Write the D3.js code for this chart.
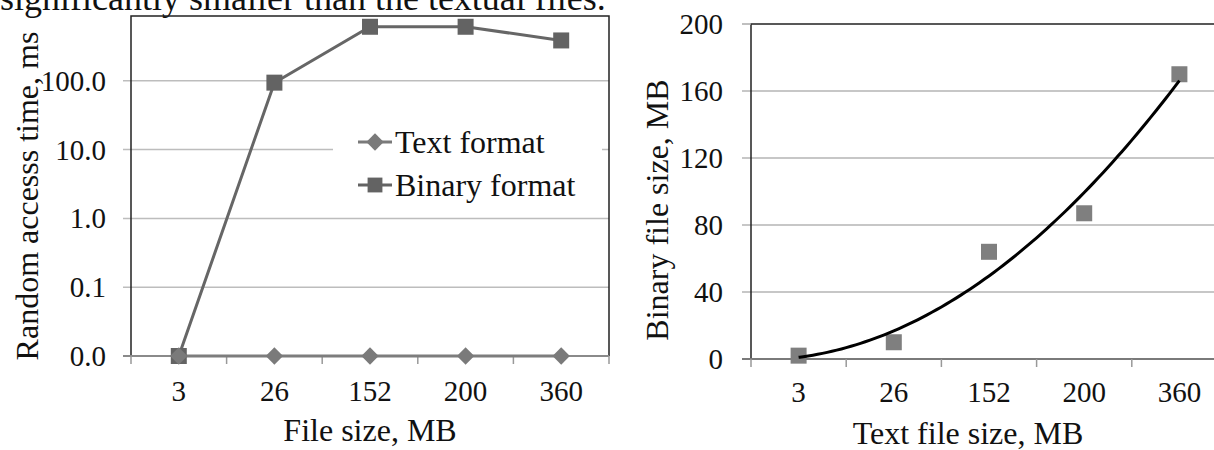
<!DOCTYPE html>
<html>
<head>
<meta charset="utf-8">
<script src="https://cdn.jsdelivr.net/npm/d3@7"></script>
<style>
  body { margin: 0; background: #fff; }
  svg { display: block; }
  text { font-family: "Liberation Serif", "Times New Roman", serif; fill: #111; }
</style>
</head>
<body>
<svg id="chart" width="1214" height="450"></svg>
<script>
const categories = ["3", "26", "152", "200", "360"];
const textFormat = [0.01, 0.01, 0.01, 0.01, 0.01];
const binaryFormat = [0.01, 94, 610, 610, 386];
const leftTicks = [0.01, 0.1, 1, 10, 100];
const binarySize = [2, 10, 64, 87, 170];
const rightTicks = [0, 40, 80, 120, 160, 200];
const seriesNames = ["Text format", "Binary format"];
const topLine = "significantly smaller than the textual files.";

const svg = d3.select("#chart");
const tickSize = 29;   // tick labels
const titleSize = 32;  // axis titles and legend

function label(x, y, str, anchor, size, rot = 0) {
  svg.append("text")
    .attr("transform", `translate(${x},${y}) rotate(${rot})`)
    .attr("text-anchor", anchor)
    .style("font-size", size + "px")
    .text(str);
}

// sentence cut off at the top of the page
label(0, 10, topLine, "start", 36);

// ---------- left chart: random access time (log) ----------
const L = {l: 131, r: 609, t: 16, b: 356};
const xL = d3.scaleBand().domain(categories).range([L.l, L.r]);
const yL = d3.scaleLog().domain([0.01, 1000]).range([L.b, L.b - 5 * 68.8]);
const fmt = d3.format(".1f");

const gL = svg.append("g");
gL.selectAll(".grid").data(leftTicks.slice(1)).join("line")
  .attr("x1", L.l - 8).attr("x2", L.r)
  .attr("y1", d => yL(d)).attr("y2", d => yL(d))
  .attr("stroke", "#bdbdbd").attr("stroke-width", 1.5);

// legend box hides the gridline behind it
gL.append("rect").attr("x", 333).attr("y", 118).attr("width", 269).attr("height", 88).attr("fill", "#fff");

gL.append("path")
  .attr("d", `M${L.l},${L.b}V${L.t}H${L.r}V${L.b}`)
  .attr("fill", "none").attr("stroke", "#222").attr("stroke-width", 1.5);
gL.append("line").attr("x1", L.l - 8).attr("x2", L.r).attr("y1", L.b).attr("y2", L.b)
  .attr("stroke", "#8a8a8a").attr("stroke-width", 2);

const edgesL = categories.map(c => xL(c)).concat([L.r]);
gL.selectAll(".xt").data(edgesL).join("line")
  .attr("x1", d => d).attr("x2", d => d).attr("y1", L.b).attr("y2", L.b + 8)
  .attr("stroke", "#999").attr("stroke-width", 1.5);

leftTicks.forEach(v => label(106, yL(v) + 10, fmt(v), "end", tickSize));
categories.forEach(c => label(xL(c) + xL.bandwidth() / 2, 401, c, "middle", tickSize));
label(370, 441, "File size, MB", "middle", titleSize);
label(38, 196, "Random accesss time, ms", "middle", titleSize, -90);

const cx = (d, i) => xL(categories[i]) + xL.bandwidth() / 2;
const line = d3.line().x(cx).y(d => yL(d));
const diamond = d3.symbol(d3.symbolSquare, 150);
const square = d3.symbol(d3.symbolSquare, 256);

gL.append("path").datum(binaryFormat).attr("d", line)
  .attr("fill", "none").attr("stroke", "#666").attr("stroke-width", 3);
gL.append("path").datum(textFormat).attr("d", line)
  .attr("fill", "none").attr("stroke", "#7d7d7d").attr("stroke-width", 3);
gL.selectAll(".bin").data(binaryFormat).join("path")
  .attr("transform", (d, i) => `translate(${cx(d, i)},${yL(d)})`)
  .attr("d", square).attr("fill", "#636363");
gL.selectAll(".txt").data(textFormat).join("path")
  .attr("transform", (d, i) => `translate(${cx(d, i)},${yL(d)}) rotate(45)`)
  .attr("d", diamond).attr("fill", "#7a7a7a");

// legend
const legRows = [
  {name: seriesNames[0], y: 142, sym: diamond, rot: 45, col: "#7a7a7a"},
  {name: seriesNames[1], y: 185, sym: d3.symbol(d3.symbolSquare, 220), rot: 0, col: "#636363"}
];
legRows.forEach(r => {
  gL.append("line").attr("x1", 358).attr("x2", 392).attr("y1", r.y).attr("y2", r.y)
    .attr("stroke", r.col).attr("stroke-width", 3);
  gL.append("path").attr("transform", `translate(375,${r.y}) rotate(${r.rot})`)
    .attr("d", r.sym).attr("fill", r.col);
  label(395, r.y + 11, r.name, "start", titleSize);
});

// ---------- right chart: binary vs text file size ----------
const R = {l: 751, r: 1227, t: 24, b: 359};
const xR = d3.scaleBand().domain(categories).range([R.l, R.r]);
const yR = d3.scaleLinear().domain([0, 200]).range([R.b, R.t]);

const gR = svg.append("g");
gR.selectAll(".grid").data(rightTicks.slice(1, -1)).join("line")
  .attr("x1", R.l - 9).attr("x2", R.r)
  .attr("y1", d => yR(d)).attr("y2", d => yR(d))
  .attr("stroke", "#b5b5b5").attr("stroke-width", 1.5);
gR.append("path")
  .attr("d", `M${R.l},${R.b}V${R.t}H${R.r}`)
  .attr("fill", "none").attr("stroke", "#222").attr("stroke-width", 1.5);
gR.append("line").attr("x1", R.l - 9).attr("x2", R.l).attr("y1", R.t).attr("y2", R.t)
  .attr("stroke", "#aaa").attr("stroke-width", 1.5);
gR.append("line").attr("x1", R.l - 9).attr("x2", R.r).attr("y1", R.b).attr("y2", R.b)
  .attr("stroke", "#7a7a7a").attr("stroke-width", 2);

const edgesR = categories.map(c => xR(c)).concat([R.r]);
gR.selectAll(".xt").data(edgesR).join("line")
  .attr("x1", d => d).attr("x2", d => d).attr("y1", R.b).attr("y2", R.b + 8)
  .attr("stroke", "#999").attr("stroke-width", 1.5);

rightTicks.forEach(v => label(723, yR(v) + 10, v, "end", tickSize));
categories.forEach(c => label(xR(c) + xR.bandwidth() / 2, 402, c, "middle", tickSize));
label(968, 444, "Text file size, MB", "middle", titleSize);
label(668, 210, "Binary file size, MB", "middle", titleSize, -90);

// polynomial (order 2) trend line, least squares on category index 1..5
const n = binarySize.length;
const idx = d3.range(1, n + 1);
const tm = d3.mean(idx);
const t = idx.map(i => i - tm);
const s2 = d3.sum(t, v => v * v), s4 = d3.sum(t, v => v ** 4);
const sy = d3.sum(binarySize), sty = d3.sum(t, (v, i) => v * binarySize[i]);
const st2y = d3.sum(t, (v, i) => v * v * binarySize[i]);
const B = sty / s2;
const C = (n * st2y - s2 * sy) / (n * s4 - s2 * s2);
const A = (sy - C * s2) / n;
const fit = i => A + B * (i - tm) + C * (i - tm) ** 2;

const xi = d3.scaleLinear().domain([1, n])
  .range([xR(categories[0]) + xR.bandwidth() / 2, xR(categories[n - 1]) + xR.bandwidth() / 2]);

gR.selectAll(".pt").data(binarySize).join("rect")
  .attr("x", (d, i) => xi(i + 1) - 8).attr("y", d => yR(d) - 8)
  .attr("width", 16).attr("height", 16).attr("fill", "#7f7f7f");

gR.append("path").datum(d3.range(1, n + 0.001, 0.05))
  .attr("d", d3.line().x(i => xi(i)).y(i => yR(fit(i))).curve(d3.curveMonotoneX))
  .attr("fill", "none").attr("stroke", "#000").attr("stroke-width", 3);
</script>
</body>
</html>
